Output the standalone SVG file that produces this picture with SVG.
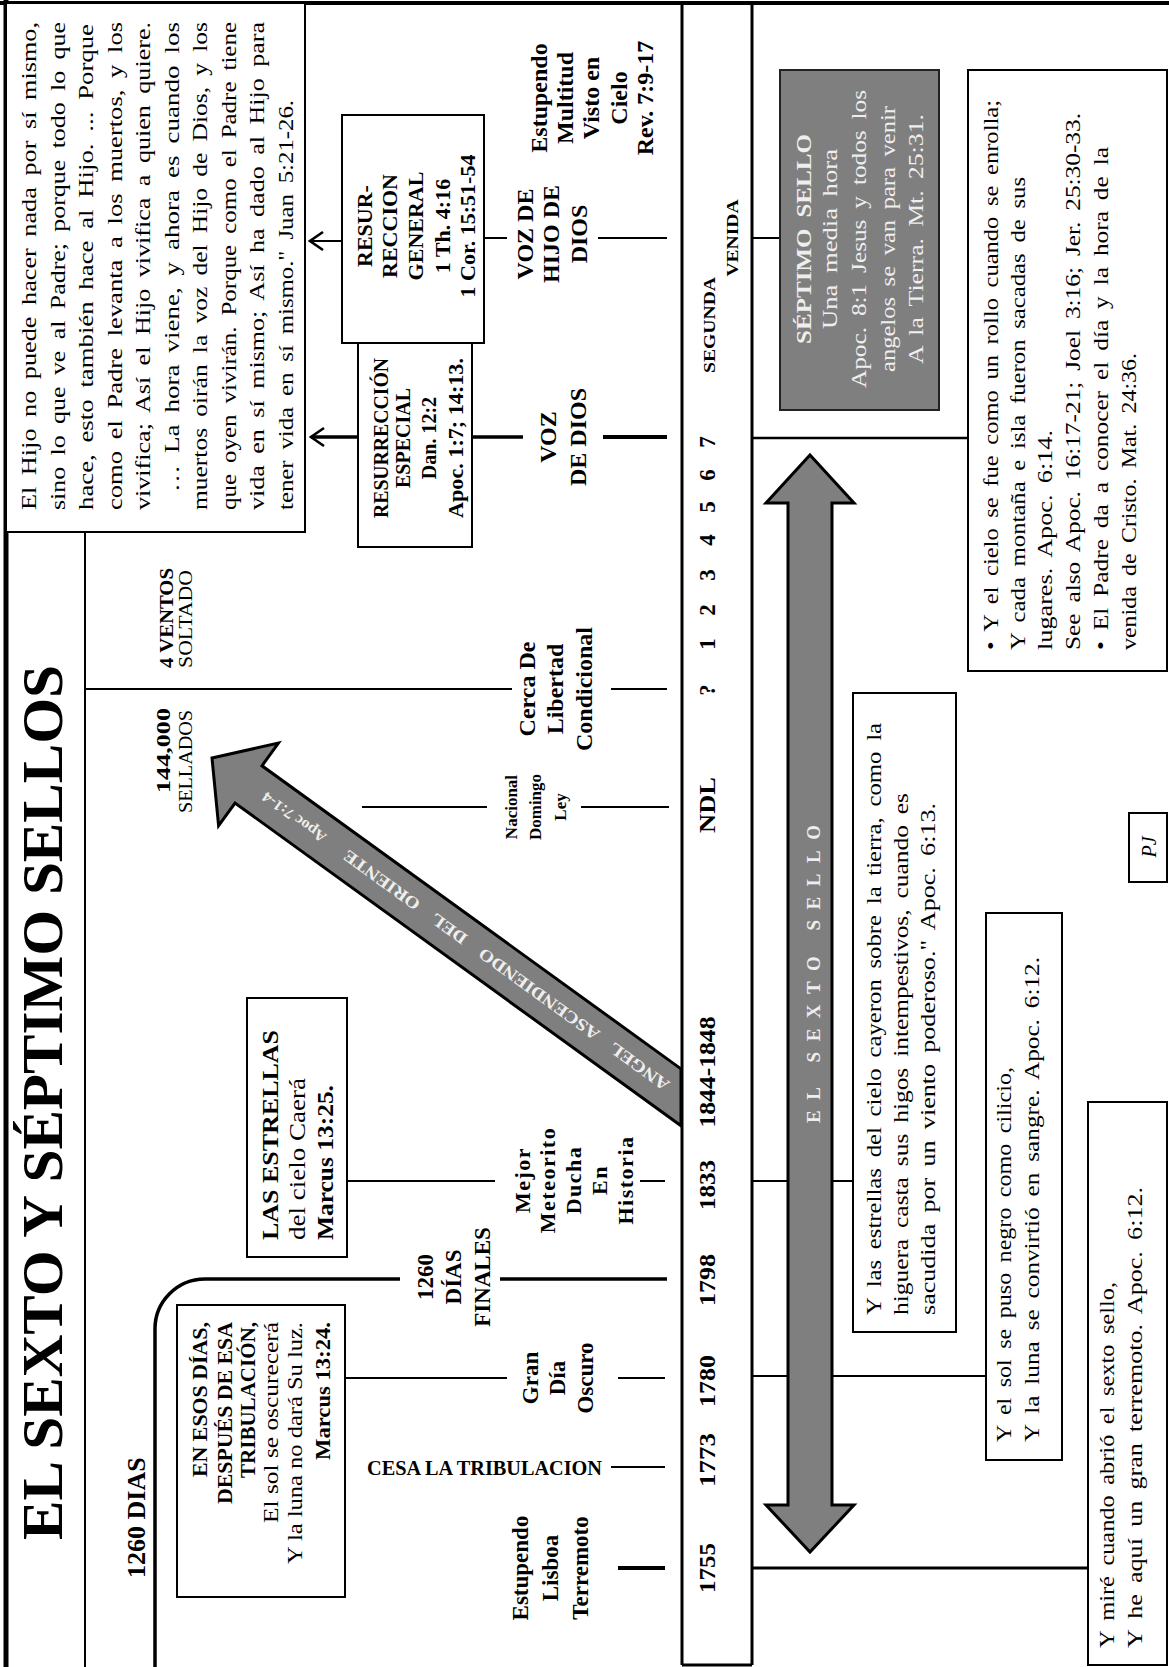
<svg xmlns="http://www.w3.org/2000/svg" width="1169" height="1667" viewBox="0 0 1169 1667">
<style>
text{font-family:"Liberation Serif","Times New Roman",serif}
.b{font-weight:bold}
.m{text-anchor:middle}
.e{text-anchor:end}
.box{fill:#fff;stroke:#000;stroke-width:2}
.ln{stroke:#000;stroke-width:2;fill:none}
.tk{stroke:#000;stroke-width:3.5;fill:none}
.gray{fill:#7f7f7f;stroke:#000;stroke-width:3}
.wt{fill:#eeeeee}
.ws{word-spacing:4px}
</style>
<defs>
<marker id="ah" markerUnits="userSpaceOnUse" markerWidth="16" markerHeight="20" viewBox="0 0 16 20" refX="14" refY="10" orient="auto"><path d="M1,1 L14,10 L1,19" fill="none" stroke="#000" stroke-width="2.5"/></marker>
</defs>
<rect width="1169" height="1667" fill="#fff"/>

<g id="frame">
<line x1="0" y1="3" x2="1169" y2="3" stroke="#000" stroke-width="4"/>
<line x1="6" y1="0" x2="6" y2="1667" stroke="#000" stroke-width="5"/>
<line x1="85" y1="532" x2="85" y2="1667" class="ln"/>
</g>

<g id="connectors">
<line x1="618" y1="1568" x2="665" y2="1568" stroke="#000" stroke-width="4"/>
<line x1="611" y1="1467" x2="665" y2="1467" class="ln"/>
<line x1="345" y1="1378" x2="507" y2="1378" class="ln"/>
<line x1="618" y1="1378" x2="665" y2="1378" class="ln"/>
<path d="M155,1667 V1330 A50,50 0 0 1 205,1279 H400" class="tk"/>
<line x1="500" y1="1279" x2="667" y2="1279" class="tk"/>
<line x1="347" y1="1181" x2="495" y2="1181" class="ln"/>
<line x1="640" y1="1181" x2="665" y2="1181" class="ln"/>
<line x1="362" y1="807" x2="487" y2="807" class="ln"/>
<line x1="581" y1="807" x2="669" y2="807" class="ln"/>
<line x1="85" y1="689" x2="512" y2="689" class="ln"/>
<line x1="611" y1="689" x2="667" y2="689" class="ln"/>
<line x1="472" y1="437" x2="523" y2="437" class="tk"/>
<line x1="603" y1="437" x2="667" y2="437" stroke="#000" stroke-width="4"/>
<line x1="358" y1="437" x2="311" y2="437" class="tk" marker-end="url(#ah)"/>
<line x1="484" y1="238" x2="507" y2="238" class="ln"/>
<line x1="598" y1="238" x2="667" y2="238" class="ln"/>
<line x1="342" y1="241" x2="310" y2="241" class="ln" marker-end="url(#ah)"/>
<line x1="752" y1="238" x2="780" y2="238" class="ln"/>
<line x1="752" y1="438" x2="968" y2="438" stroke="#000" stroke-width="2.5"/>
<line x1="752" y1="1181" x2="853" y2="1181" class="ln"/>
<line x1="752" y1="1376" x2="986" y2="1376" class="ln"/>
<line x1="752" y1="1568" x2="1088" y2="1568" stroke="#000" stroke-width="3"/>
</g>

<g id="title">
<g transform="translate(0,1667) rotate(-90)">
<text x="127" y="62" class="b" font-size="58" textLength="875" lengthAdjust="spacingAndGlyphs">EL SEXTO Y SÉPTIMO SELLOS</text>
</g>
</g>

<g id="label-1260-dias">
<g transform="translate(0,1667) rotate(-90)">
<text x="89" y="145" class="b" font-size="26">1260 DIAS</text>
</g>
</g>

<g id="quote-juan">
<rect class="box" x="6" y="3" width="299" height="529"/>
<g transform="translate(0,1667) rotate(-90)" font-size="21" class="ws">
<text x="1157" y="36" textLength="488" lengthAdjust="spacingAndGlyphs">El Hijo no puede hacer nada por sí mismo,</text>
<text x="1157" y="64.5" textLength="488" lengthAdjust="spacingAndGlyphs">sino lo que ve al Padre; porque todo lo que</text>
<text x="1157" y="93" textLength="486" lengthAdjust="spacingAndGlyphs">hace, esto también hace al Hijo.  ...  Porque</text>
<text x="1157" y="121.5" textLength="488" lengthAdjust="spacingAndGlyphs">como el Padre levanta a los muertos, y los</text>
<text x="1157" y="150" textLength="488" lengthAdjust="spacingAndGlyphs">vivifica; Así el Hijo vivifica a quien quiere.</text>
<text x="1175" y="178.5" textLength="470" lengthAdjust="spacingAndGlyphs">… La hora viene, y ahora es cuando los</text>
<text x="1157" y="207" textLength="488" lengthAdjust="spacingAndGlyphs">muertos oirán la voz del Hijo de Dios, y los</text>
<text x="1157" y="235.5" textLength="488" lengthAdjust="spacingAndGlyphs">que oyen vivirán. Porque como el Padre tiene</text>
<text x="1157" y="264" textLength="488" lengthAdjust="spacingAndGlyphs">vida en sí mismo; Así ha dado al Hijo para</text>
<text x="1157" y="292.5" textLength="410" lengthAdjust="spacingAndGlyphs">tener vida en sí mismo."  Juan 5:21-26.</text>
</g>
</g>

<g id="resurreccion-general">
<rect class="box" x="342" y="115" width="142" height="228"/>
<g transform="translate(0,1667) rotate(-90)" class="b m" font-size="22">
<text x="1441" y="372">RESUR-</text>
<text x="1441" y="397">RECCION</text>
<text x="1441" y="423">GENERAL</text>
<text x="1441" y="450">1 Th. 4:16</text>
<text x="1441" y="475">1 Cor. 15:51-54</text>
</g>
</g>

<g id="resurreccion-especial">
<rect class="box" x="358" y="343" width="114" height="204"/>
<g transform="translate(0,1667) rotate(-90)" class="b m" font-size="20">
<text x="1229" y="388" textLength="160" lengthAdjust="spacingAndGlyphs">RESURRECCIÓN</text>
<text x="1229" y="410">ESPECIAL</text>
<text x="1229" y="436">Dan. 12:2</text>
<text x="1229" y="463" textLength="160" lengthAdjust="spacingAndGlyphs">Apoc. 1:7; 14:13.</text>
</g>
</g>

<g id="las-estrellas">
<rect class="box" x="247" y="998" width="100" height="259"/>
<g transform="translate(0,1667) rotate(-90)" font-size="23">
<text x="427" y="278" class="b" textLength="210" lengthAdjust="spacingAndGlyphs">LAS ESTRELLAS</text>
<text x="427" y="305" textLength="162" lengthAdjust="spacingAndGlyphs">del cielo Caerá</text>
<text x="427" y="333" class="b" textLength="155" lengthAdjust="spacingAndGlyphs">Marcus 13:25.</text>
</g>
</g>

<g id="en-esos-dias">
<rect class="box" x="177" y="1305" width="168" height="292"/>
<g transform="translate(0,1667) rotate(-90)" class="e">
<text x="345" y="207" class="b" font-size="21" textLength="155" lengthAdjust="spacingAndGlyphs">EN ESOS DÍAS,</text>
<text x="345" y="232" class="b" font-size="21" textLength="182" lengthAdjust="spacingAndGlyphs">DESPUÉS DE ESA</text>
<text x="345" y="255" class="b" font-size="21" textLength="156" lengthAdjust="spacingAndGlyphs">TRIBULACIÓN,</text>
<text x="345" y="278" font-size="22" textLength="201" lengthAdjust="spacingAndGlyphs">El sol se oscurecerá</text>
<text x="345" y="302" font-size="22" textLength="242" lengthAdjust="spacingAndGlyphs">Y la luna no dará Su luz.</text>
<text x="345" y="330" class="b" font-size="20" textLength="138" lengthAdjust="spacingAndGlyphs">Marcus 13:24.</text>
</g>
</g>

<g id="timeline">
<line x1="682" y1="3" x2="682" y2="1665" stroke="#000" stroke-width="3"/>
<line x1="752" y1="3" x2="752" y2="1665" stroke="#000" stroke-width="3"/>
<line x1="682" y1="1665" x2="752" y2="1665" stroke="#000" stroke-width="3"/>
<g transform="translate(0,1667) rotate(-90)" class="b m" font-size="23">
<text x="99" y="715" textLength="50" lengthAdjust="spacingAndGlyphs">1755</text>
<text x="207" y="715" textLength="54" lengthAdjust="spacingAndGlyphs">1773</text>
<text x="286" y="715" textLength="52" lengthAdjust="spacingAndGlyphs">1780</text>
<text x="387" y="715" textLength="52" lengthAdjust="spacingAndGlyphs">1798</text>
<text x="482" y="715" textLength="50" lengthAdjust="spacingAndGlyphs">1833</text>
<text x="595" y="715" textLength="111" lengthAdjust="spacingAndGlyphs">1844-1848</text>
<text x="862" y="715" textLength="56" lengthAdjust="spacingAndGlyphs">NDL</text>
<text x="977" y="715">?</text>
<text x="1023" y="715">1</text>
<text x="1057" y="715">2</text>
<text x="1092" y="715">3</text>
<text x="1127" y="715">4</text>
<text x="1160" y="715">5</text>
<text x="1192" y="715">6</text>
<text x="1225" y="715">7</text>
<text x="1342" y="715" font-size="17" textLength="96" lengthAdjust="spacingAndGlyphs">SEGUNDA</text>
<text x="1429" y="738" font-size="17" textLength="77" lengthAdjust="spacingAndGlyphs">VENIDA</text>
</g>
</g>

<g id="ev-lisboa">
<g transform="translate(0,1667) rotate(-90)" class="b m" font-size="23">
<text x="99" y="528">Estupendo</text>
<text x="99" y="558">Lisboa</text>
<text x="99" y="588">Terremoto</text>
</g>
</g>

<g id="ev-cesa">
<text x="367" y="1475" class="b" font-size="20" textLength="235" lengthAdjust="spacingAndGlyphs">CESA LA TRIBULACION</text>
</g>

<g id="ev-dia-oscuro">
<g transform="translate(0,1667) rotate(-90)" class="b m" font-size="23">
<text x="289" y="538">Gran</text>
<text x="289" y="565">Día</text>
<text x="289" y="593">Oscuro</text>
</g>
</g>

<g id="ev-1260-finales">
<g transform="translate(0,1667) rotate(-90)" class="b m" font-size="23">
<text x="390" y="433">1260</text>
<text x="390" y="461">DÍAS</text>
<text x="390" y="490">FINALES</text>
</g>
</g>

<g id="ev-meteorito">
<g transform="translate(0,1667) rotate(-90)" class="b m" font-size="22" letter-spacing="1.5">
<text x="487" y="530">Mejor</text>
<text x="487" y="555">Meteorito</text>
<text x="487" y="581">Ducha</text>
<text x="487" y="607">En</text>
<text x="487" y="633">Historia</text>
</g>
</g>

<g id="ev-ndl">
<g transform="translate(0,1667) rotate(-90)" class="b m" font-size="17">
<text x="860" y="517">Nacional</text>
<text x="860" y="541">Domingo</text>
<text x="860" y="566">Ley</text>
</g>
</g>

<g id="ev-libertad">
<g transform="translate(0,1667) rotate(-90)" class="b m" font-size="24">
<text x="978" y="535">Cerca De</text>
<text x="978" y="563">Libertad</text>
<text x="978" y="592">Condicional</text>
</g>
</g>

<g id="ev-voz-dios">
<g transform="translate(0,1667) rotate(-90)" class="b m" font-size="24">
<text x="1230" y="556">VOZ</text>
<text x="1230" y="586">DE DIOS</text>
</g>
</g>

<g id="ev-voz-hijo">
<g transform="translate(0,1667) rotate(-90)" class="b m" font-size="24">
<text x="1433" y="533">VOZ DE</text>
<text x="1433" y="559">HIJO DE</text>
<text x="1433" y="587">DIOS</text>
</g>
</g>

<g id="ev-multitud">
<g transform="translate(0,1667) rotate(-90)" class="b m" font-size="24">
<text x="1569" y="547">Estupendo</text>
<text x="1569" y="573">Multitud</text>
<text x="1569" y="599">Visto en</text>
<text x="1569" y="627">Cielo</text>
<text x="1569" y="653">Rev. 7:9-17</text>
</g>
</g>

<g id="ev-4-ventos">
<g transform="translate(0,1667) rotate(-90)" font-size="19">
<text x="999" y="173" class="b" textLength="100" lengthAdjust="spacingAndGlyphs">4 VENTOS</text>
<text x="999" y="192" textLength="98" lengthAdjust="spacingAndGlyphs">SOLTADO</text>
</g>
</g>

<g id="ev-144000">
<g transform="translate(0,1667) rotate(-90)" class="e" font-size="19">
<text x="959" y="170" class="b" textLength="85" lengthAdjust="spacingAndGlyphs">144,000</text>
<text x="957" y="192" textLength="103" lengthAdjust="spacingAndGlyphs">SELLADOS</text>
</g>
</g>

<g id="angel-arrow">
<polygon class="gray" points="212,758 278.4,743.1 262,765.8 681,1068.9 681,1125.7 235,803 218.6,825.7"/>
<g transform="translate(681,1097.3) rotate(215.9)" class="b wt">
<text x="17" y="6" font-size="17" word-spacing="12" textLength="398" lengthAdjust="spacingAndGlyphs">ANGEL ASCENDIENDO DEL ORIENTE</text>
<text x="440" y="5" font-size="15" textLength="75" lengthAdjust="spacingAndGlyphs">Apoc 7:1-4</text>
</g>
</g>

<g id="sexto-sello-arrow">
<polygon class="gray" points="810,455 854,503 832,503 832,1505 854,1505 810,1552 766,1505 788,1505 788,503 766,503"/>
<g transform="translate(0,1667) rotate(-90)">
<text x="693" y="820" class="b m wt" font-size="19" textLength="298">EL SEXTO SELLO</text>
</g>
</g>

<g id="septimo-sello">
<rect x="780" y="70" width="159" height="340" fill="#7f7f7f" stroke="#222" stroke-width="2"/>
<g transform="translate(0,1667) rotate(-90)" class="m wt ws" font-size="22">
<text x="1428" y="811" class="b" textLength="210" lengthAdjust="spacingAndGlyphs">SÉPTIMO SELLO</text>
<text x="1428" y="837" textLength="180" lengthAdjust="spacingAndGlyphs">Una media hora</text>
<text x="1428" y="866" textLength="298" lengthAdjust="spacingAndGlyphs">Apoc. 8:1  Jesus y todos los</text>
<text x="1428" y="895" textLength="266" lengthAdjust="spacingAndGlyphs">angelos  se van para venir</text>
<text x="1428" y="923" textLength="250" lengthAdjust="spacingAndGlyphs">A la Tierra.   Mt. 25:31.</text>
</g>
</g>

<g id="cielo-rollo">
<rect class="box" x="968" y="70" width="199" height="601"/>
<g transform="translate(0,1667) rotate(-90)" font-size="22" class="ws">
<text x="1017" y="998" textLength="550" lengthAdjust="spacingAndGlyphs">•  Y el cielo se fue como un rollo cuando se enrolla;</text>
<text x="1017" y="1025" textLength="473" lengthAdjust="spacingAndGlyphs">Y cada montaña e isla fueron sacadas de sus</text>
<text x="1017" y="1052" textLength="220" lengthAdjust="spacingAndGlyphs">lugares.   Apoc. 6:14.</text>
<text x="1017" y="1080" textLength="537" lengthAdjust="spacingAndGlyphs">See also Apoc. 16:17-21; Joel 3:16; Jer. 25:30-33.</text>
<text x="1017" y="1108" textLength="503" lengthAdjust="spacingAndGlyphs">•    El Padre da a conocer el día y la hora de la</text>
<text x="1017" y="1136" textLength="297" lengthAdjust="spacingAndGlyphs">venida de Cristo.   Mat. 24:36.</text>
</g>
</g>

<g id="estrellas-cayeron">
<rect class="box" x="853" y="693" width="103" height="639"/>
<g transform="translate(0,1667) rotate(-90)" font-size="22" class="ws">
<text x="352" y="881" textLength="592" lengthAdjust="spacingAndGlyphs">Y las estrellas  del cielo cayeron sobre la tierra,  como la</text>
<text x="352" y="908" textLength="522" lengthAdjust="spacingAndGlyphs">higuera  casta sus higos  intempestivos,  cuando es</text>
<text x="352" y="935" textLength="512" lengthAdjust="spacingAndGlyphs">sacudida por un viento poderoso."  Apoc. 6:13.</text>
</g>
</g>

<g id="sol-negro">
<rect class="box" x="986" y="913" width="76" height="547"/>
<g transform="translate(0,1667) rotate(-90)" font-size="22" class="ws">
<text x="225" y="1011" textLength="375" lengthAdjust="spacingAndGlyphs">Y el sol se puso negro como cilicio,</text>
<text x="225" y="1039" textLength="485" lengthAdjust="spacingAndGlyphs">Y la luna se convirtió en sangre.   Apoc. 6:12.</text>
</g>
</g>

<g id="sexto-sello-abrio">
<rect class="box" x="1088" y="1102" width="79" height="563"/>
<g transform="translate(0,1667) rotate(-90)" font-size="22" class="ws">
<text x="19" y="1114" textLength="366" lengthAdjust="spacingAndGlyphs">Y miré cuando abrió el sexto sello,</text>
<text x="19" y="1142" textLength="461" lengthAdjust="spacingAndGlyphs">Y he aquí un gran terremoto.   Apoc. 6:12.</text>
</g>
</g>

<g id="pj">
<rect class="box" x="1129" y="813" width="38" height="69"/>
<g transform="translate(0,1667) rotate(-90)">
<text x="820" y="1156" class="m" font-size="20" font-style="italic">PJ</text>
</g>
</g>
</svg>
